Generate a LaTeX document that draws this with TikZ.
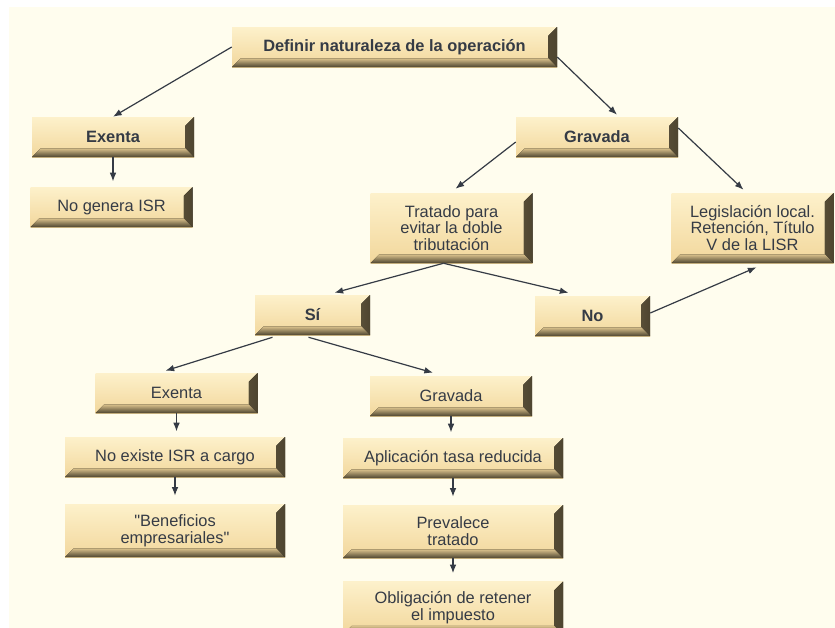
\documentclass[tikz,border=0pt]{standalone}
\usepackage{fontspec}
\setmainfont{Liberation Sans}
\usepackage{tikz}
\usetikzlibrary{arrows.meta,calc}
\definecolor{cream}{HTML}{FFFDEE}
\definecolor{facetop}{HTML}{FDF1CB}
\definecolor{facebot}{HTML}{F2D79C}
\definecolor{bevdark}{HTML}{4E4530}
\definecolor{ink}{HTML}{353B45}

\begin{document}
\begin{tikzpicture}[x=0.75pt,y=-0.75pt,
  box/.style={top color=facetop,bottom color=facebot,draw=none,text=ink,
              align=center,inner sep=2pt,minimum width=121.5pt,minimum height=30pt,
              font=\fontsize{12.3pt}{12.6pt}\selectfont,
              path picture={
                \fill[left color=facebot!85!bevdark,right color=bevdark]
                  (path picture bounding box.north east) -- (path picture bounding box.south east)
                  -- ([xshift=-6.5pt,yshift=6.5pt]path picture bounding box.south east)
                  -- ([xshift=-6.5pt,yshift=-6.5pt]path picture bounding box.north east) -- cycle;
                \fill[top color=facebot!85!bevdark,bottom color=bevdark]
                  (path picture bounding box.south west) -- (path picture bounding box.south east)
                  -- ([xshift=-6.5pt,yshift=6.5pt]path picture bounding box.south east)
                  -- ([xshift=6.5pt,yshift=6.5pt]path picture bounding box.south west) -- cycle;}},
  strong/.style={font=\fontsize{12.3pt}{12.6pt}\selectfont\bfseries},
  wide/.style={minimum width=165pt},
  tall/.style={minimum height=52.5pt},
  arr/.style={-{Latex[length=6.5pt,width=5pt]},ink,line width=0.9pt}]

\clip (0,0) rectangle (835,628);
\fill[white] (0,0) rectangle (835,628);
\fill[cream] (9,7) rectangle (835,628);

\node[box,strong,minimum width=243.75pt] (op) at (394.5,47) {Definir naturaleza de la operación};
\node[box,strong] (exA) at (113,137) {Exenta};
\node[box] (nogen) at (111.5,207) {No genera ISR};
\node[box,strong] (gravA) at (597,137) {Gravada};
\node[box,tall] (trat) at (451.5,228) {Tratado para\\evitar la doble\\tributación};
\node[box,tall] (legis) at (752.5,228) {Legislación local.\\Retención, Título\\V de la LISR};
\node[box,strong,minimum width=86.25pt] (si) at (312.5,315) {Sí};
\node[box,strong,minimum width=86.25pt] (no) at (592.5,316) {No};

\node[box] (exB) at (176.5,393) {Exenta};
\node[box] (gravB) at (451,396) {Gravada};
\node[box,wide] (noisr) at (175,457) {No existe ISR a cargo};
\node[box,wide] (aplic) at (453,458) {Aplicación tasa reducida};
\node[box,wide,minimum height=39.75pt] (benef) at (175,530.5) {\textquotedbl Beneficios\\empresariales\textquotedbl};
\node[box,wide,minimum height=39.75pt] (preval) at (453,531.5) {Prevalece\\tratado};
\node[box,wide,minimum height=39.75pt] (oblig) at (453,608) {Obligación de retener\\el impuesto};

\draw[arr] (op.west) -- (exA.north);
\draw[arr] ($(op.east)+(0,10)$) -- ($(gravA.north)+(20,-2)$);
\draw[arr,shorten >=4pt] (exA.south) -- (exA.south |- nogen.north);
\draw[arr] ($(gravA.west)+(0,5)$) -- ($(trat.north)+(4,-4)$);
\draw[arr] ($(gravA.east)+(0,-9)$) -- ($(legis.north)+(-9,-3)$);
\draw[arr] ($(trat.south)+(-8,0)$) -- ($(si.north)+(22,-2)$);
\draw[arr] ($(trat.south)+(-8,0)$) -- ($(no.north)+(-24,-3)$);
\draw[arr] ($(no.east)+(0,-3)$) -- ($(legis.south)+(4,4)$);

\draw[arr] ($(si.south)+(-40,2)$) -- ($(exB.north)+(-11,-2)$);
\draw[arr] ($(si.south)+(-4,2)$) -- ($(gravB.north)+(-18,-3)$);
\draw[arr,shorten >=4pt] (exB.south) -- (exB.south |- noisr.north);
\draw[arr,shorten >=6pt] (noisr.south) -- (noisr.south |- benef.north);
\draw[arr,shorten >=4pt] (gravB.south) -- (gravB.south |- aplic.north);
\draw[arr,shorten >=6pt] (aplic.south) -- (aplic.south |- preval.north);
\draw[arr,shorten >=6pt] (preval.south) -- (preval.south |- oblig.north);
\end{tikzpicture}
\end{document}
